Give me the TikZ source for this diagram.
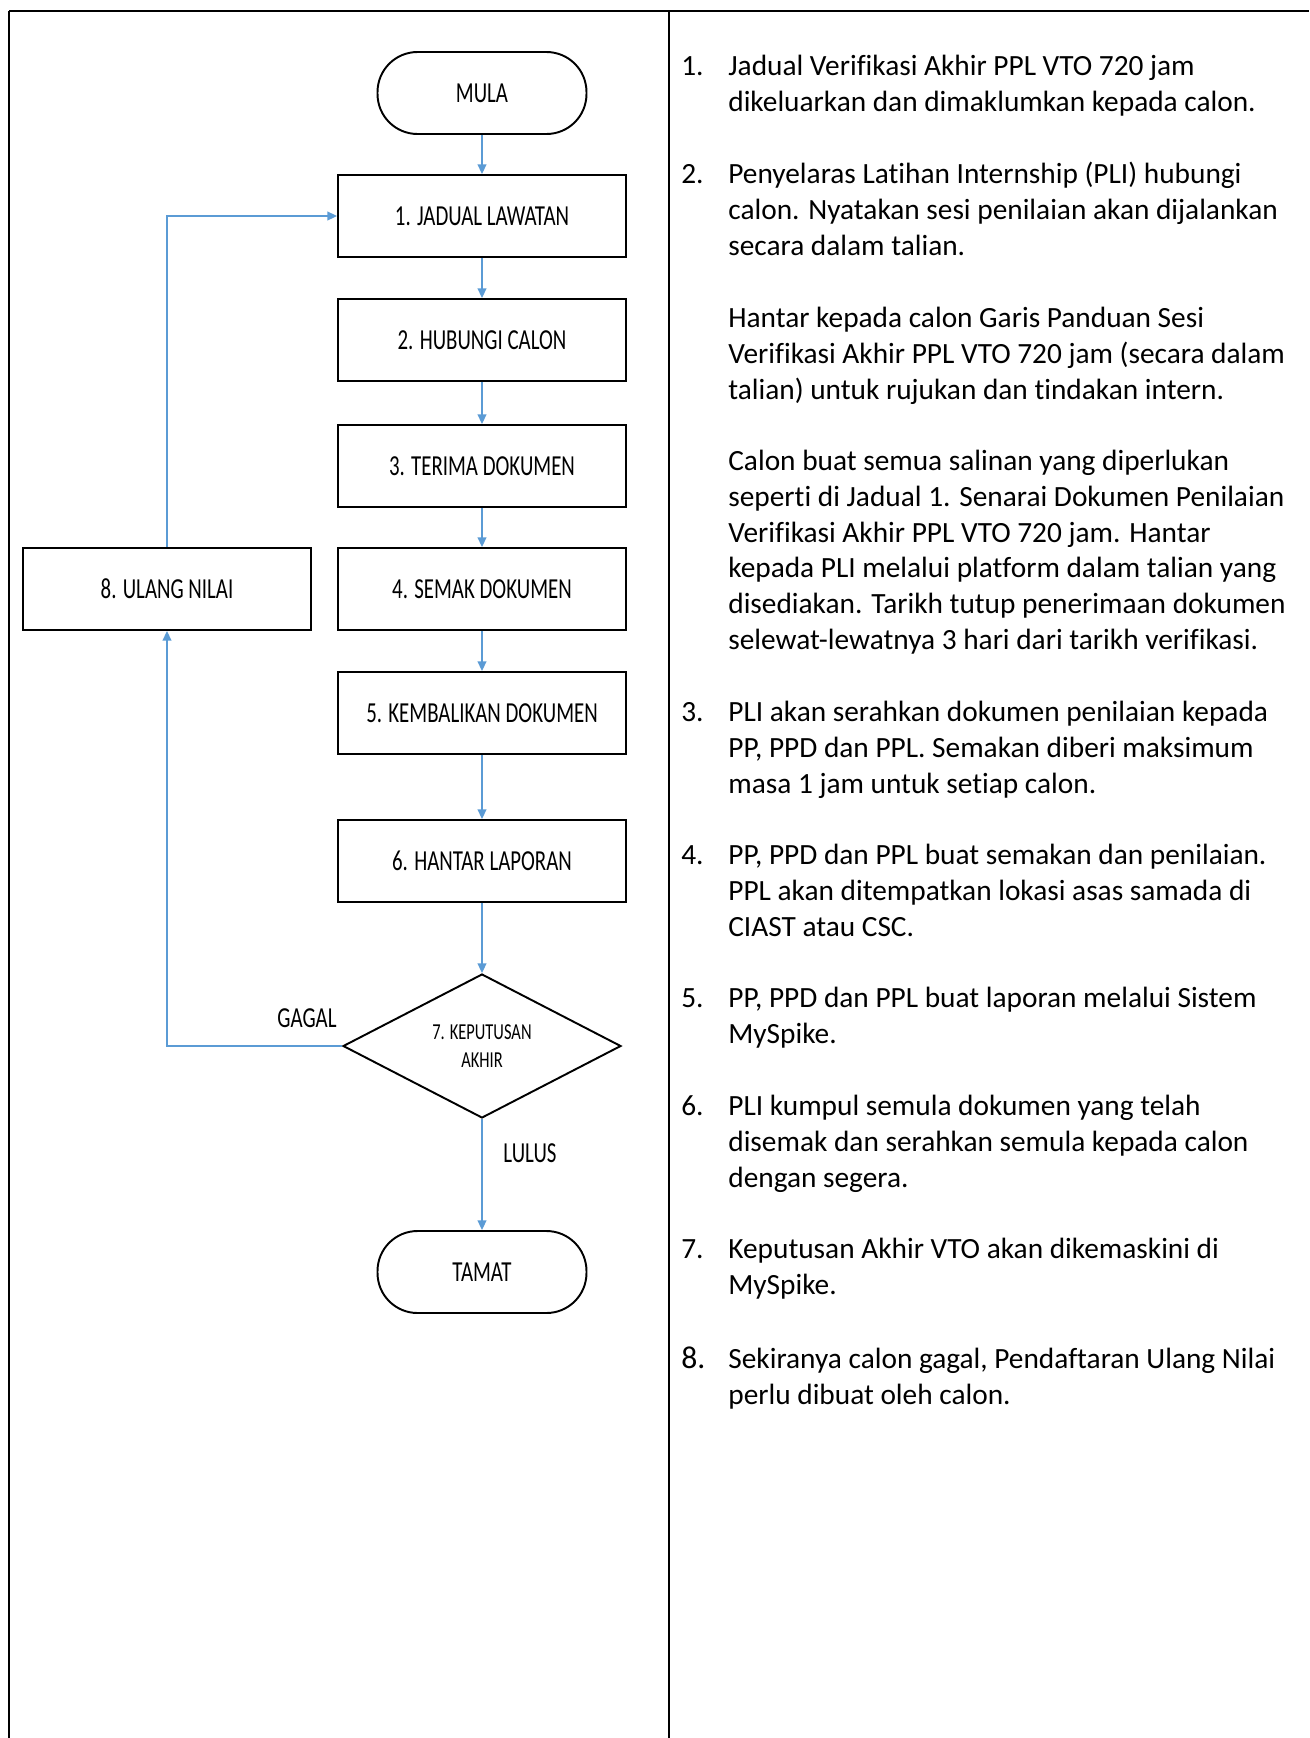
\documentclass[tikz,border=0pt]{standalone}
\usepackage{fontspec}
\setmainfont{Carlito}[Ligatures={NoCommon}]
\newfontfamily\boxfont[FakeStretch=0.72,Ligatures={NoCommon}]{Carlito}
\usepackage{tikz}
\usetikzlibrary{arrows,arrows.meta,shapes,positioning}
\usepackage{xcolor}
\definecolor{flowblue}{RGB}{91,155,213}
\tikzstyle{arrow} = [->,>={Triangle[length=5.5pt,width=5pt]},line width=0.8pt,color=flowblue]
\tikzstyle{process} = [rectangle, draw=black, line width=1.1pt, minimum width=5.76cm, minimum height=1.64cm, font=\boxfont\fontsize{16.5pt}{20pt}\selectfont, text centered]
\tikzstyle{startstop} = [rectangle, rounded corners=0.8cm, draw=black, line width=1.1pt, minimum width=4.18cm, minimum height=1.64cm, font=\boxfont\fontsize{16.5pt}{20pt}\selectfont, text centered]
\tikzstyle{decision} = [diamond, draw=black, line width=1.1pt, minimum width=5.56cm, minimum height=2.88cm, inner sep=0pt, align=center, font=\boxfont\fontsize{13pt}{16pt}\selectfont]
\tikzstyle{label} = [font=\boxfont\fontsize{16.5pt}{20pt}\selectfont]
% notes are anchored at the baseline of their last line
\tikzstyle{note} = [anchor=base west, inner sep=0pt, align=left, font=\fontsize{16.7pt}{20.3pt}\selectfont]

\begin{document}
\begin{tikzpicture}[x=0.02cm, y=-0.02cm]
\useasboundingbox (0,0) rectangle (1309,1738);
% table frame
\draw[line width=1.1pt] (9,11) -- (1309,11);
\draw[line width=1.1pt] (9,11) -- (9,1738);
\draw[line width=1.1pt] (669,11) -- (669,1738);

% flow chart
\node (mula) [startstop] at (482,93) {MULA};
\node (s1) [process] at (482,216) {1. JADUAL LAWATAN};
\node (s2) [process] at (482,340) {2. HUBUNGI CALON};
\node (s3) [process] at (482,466) {3. TERIMA DOKUMEN};
\node (s4) [process] at (482,589) {4. SEMAK DOKUMEN};
\node (s8) [process] at (167,589) {8. ULANG NILAI};
\node (s5) [process] at (482,713) {5. KEMBALIKAN DOKUMEN};
\node (s6) [process] at (482,861) {6. HANTAR LAPORAN};
\node (s7) [decision] at (482,1046) {7. KEPUTUSAN\\AKHIR};
\node (tamat) [startstop] at (482,1272) {TAMAT};

\node (gagal) [label] at (307,1018) {GAGAL};
\node (lulus) [label] at (530,1153) {LULUS};

\draw[arrow] (mula) -- (s1);
\draw[arrow] (s1) -- (s2);
\draw[arrow] (s2) -- (s3);
\draw[arrow] (s3) -- (s4);
\draw[arrow] (s4) -- (s5);
\draw[arrow] (s5) -- (s6);
\draw[arrow] (s6) -- (s7);
\draw[arrow] (s7) -- (tamat);
\draw[arrow] (s7.west) -| (s8.south);
\draw[arrow] (s8.north) |- (s1.west);

% notes
\node (n1) [note] at (681,75) {1.};
\node (t1) [note] at (728,111) {Jadual Verifikasi Akhir PPL VTO 720 jam\\dikeluarkan dan dimaklumkan kepada calon.};
\node (n2) [note] at (681,183) {2.};
\node (t2) [note] at (728,255) {Penyelaras Latihan Internship (PLI) hubungi\\calon. Nyatakan sesi penilaian akan dijalankan\\secara dalam talian.};
\node (t2b) [note] at (728,399) {Hantar kepada calon Garis Panduan Sesi\\Verifikasi Akhir PPL VTO 720 jam (secara dalam\\talian) untuk rujukan dan tindakan intern.};
\node (t2c) [note] at (728,649) {Calon buat semua salinan yang diperlukan\\seperti di Jadual 1. Senarai Dokumen Penilaian\\Verifikasi Akhir PPL VTO 720 jam. Hantar\\kepada PLI melalui platform dalam talian yang\\disediakan. Tarikh tutup penerimaan dokumen\\selewat-lewatnya 3 hari dari tarikh verifikasi.};
\node (n3) [note] at (681,721) {3.};
\node (t3) [note] at (728,793) {PLI akan serahkan dokumen penilaian kepada\\PP, PPD dan PPL. Semakan diberi maksimum\\masa 1 jam untuk setiap calon.};
\node (n4) [note] at (681,864) {4.};
\node (t4) [note] at (728,936) {PP, PPD dan PPL buat semakan dan penilaian.\\PPL akan ditempatkan lokasi asas samada di\\CIAST atau CSC.};
\node (n5) [note] at (681,1007) {5.};
\node (t5) [note] at (728,1043) {PP, PPD dan PPL buat laporan melalui Sistem\\MySpike.};
\node (n6) [note] at (681,1115) {6.};
\node (t6) [note] at (728,1187) {PLI kumpul semula dokumen yang telah\\disemak dan serahkan semula kepada calon\\dengan segera.};
\node (n7) [note] at (681,1258) {7.};
\node (t7) [note] at (728,1294) {Keputusan Akhir VTO akan dikemaskini di\\MySpike.};
\node (n8) [note, font=\fontsize{18pt}{20.3pt}\selectfont] at (681,1368) {8.};
\node (t8) [note] at (728,1404) {Sekiranya calon gagal, Pendaftaran Ulang Nilai\\perlu dibuat oleh calon.};
\end{tikzpicture}
\end{document}
